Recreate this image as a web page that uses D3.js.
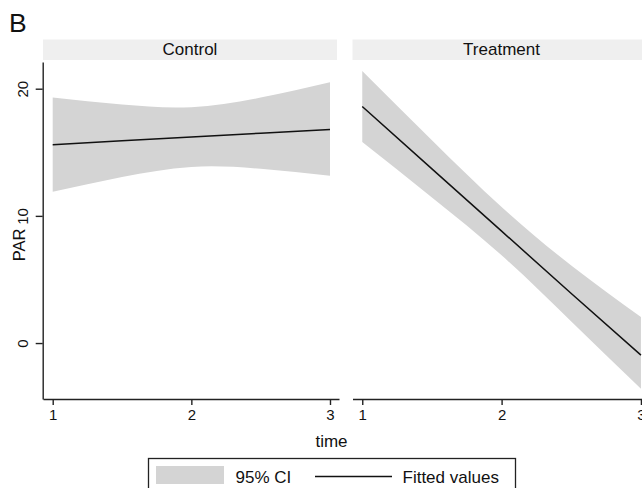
<!DOCTYPE html>
<html>
<head>
<meta charset="utf-8">
<script src="https://cdn.jsdelivr.net/npm/d3@7"></script>
<style>
  html, body { margin: 0; padding: 0; background: #fff; }
  svg { display: block; font-family: "Liberation Sans", Arial, sans-serif; }
</style>
</head>
<body>
<svg id="chart" width="642" height="488"></svg>
<script>
// ---- Data ----
const panels = ["Control", "Treatment"];
const timeValues = [1, 1.5, 2, 2.5, 3];
const controlFit   = [15.6, 15.9, 16.2, 16.5, 16.8];
const controlUpper = [19.3, 18.75, 18.55, 19.3, 20.5];
const controlLower = [11.9, 13.05, 13.85, 13.7, 13.15];
const treatFit   = [18.6, 13.7, 8.8, 3.9, -0.95];
const treatUpper = [21.4, 15.95, 10.7, 6.1, 2.05];
const treatLower = [15.8, 11.45, 6.9, 1.7, -3.6];
const xTicks = [1, 2, 3];
const yTicks = [0, 10, 20];
const legendLabels = ["95% CI", "Fitted values"];

const svg = d3.select("#chart");
const bandColor = "#d4d4d4";
const stripColor = "#efefef";

// Scales
const y = d3.scaleLinear().domain([-4.4, 22.1]).range([399, 62]);
const xRanges = [[43, 339], [352.5, 650]];
const xs = xRanges.map(r => d3.scaleLinear().domain([0.93, 3.065]).range(r));

const series = [
  { fit: controlFit, up: controlUpper, lo: controlLower },
  { fit: treatFit, up: treatUpper, lo: treatLower }
];

// "B" label
svg.append("text").attr("x", 9).attr("y", 31.5)
  .attr("font-size", 26.5).attr("fill", "#111").text("B");

panels.forEach((name, i) => {
  const x = xs[i];
  const [x0, x1] = x.range();
  const g = svg.append("g");

  // strip
  g.append("rect").attr("x", x0).attr("y", 39.5)
    .attr("width", (i === 0 ? 337 : x1) - x0).attr("height", 20.5)
    .attr("fill", stripColor);
  g.append("text").attr("x", i === 0 ? 190 : 501.5).attr("y", 55)
    .attr("text-anchor", "middle").attr("font-size", 17).attr("fill", "#111")
    .text(name);

  const d = timeValues.map((t, k) => ({ t, fit: series[i].fit[k], up: series[i].up[k], lo: series[i].lo[k] }));

  const area = d3.area().x(p => x(p.t)).y0(p => y(p.lo)).y1(p => y(p.up))
    .curve(d3.curveNatural);
  g.append("path").datum(d).attr("d", area).attr("fill", bandColor);

  const line = d3.line().x(p => x(p.t)).y(p => y(p.fit));
  g.append("path").datum(d).attr("d", line).attr("fill", "none")
    .attr("stroke", "#111").attr("stroke-width", 1.5);

  // x axis
  const xa = g.append("g").attr("transform", "translate(0,399)")
    .call(d3.axisBottom(x).tickValues(xTicks).tickSize(6).tickSizeOuter(0).tickPadding(4)
      .tickFormat(d3.format("d")));
  xa.select(".domain").attr("stroke", "#222").attr("stroke-width", 1.4);
  xa.selectAll(".tick line").attr("stroke", "#222").attr("stroke-width", 1.4);
  xa.selectAll(".tick text").attr("font-size", 15).attr("fill", "#111")
    .attr("font-family", "Liberation Sans, Arial, sans-serif");
});

// y axis (Control panel only)
const ya = svg.append("g").attr("transform", "translate(42.7,0)")
  .call(d3.axisLeft(y).tickValues(yTicks).tickSize(7).tickSizeOuter(0));
ya.select(".domain").attr("stroke", "#222").attr("stroke-width", 1.4);
ya.selectAll(".tick line").attr("stroke", "#222").attr("stroke-width", 1.4);
ya.selectAll(".tick text")
  .attr("transform", "rotate(-90)")
  .attr("x", 0).attr("y", -15).attr("dy", 0)
  .attr("text-anchor", "middle")
  .attr("font-size", 15).attr("fill", "#111")
  .attr("font-family", "Liberation Sans, Arial, sans-serif");

// y title
svg.append("text").attr("transform", "translate(25,245) rotate(-90)")
  .attr("text-anchor", "middle").attr("font-size", 16.5).attr("fill", "#111")
  .text("PAR");

// x title
svg.append("text").attr("x", 331.5).attr("y", 447)
  .attr("text-anchor", "middle").attr("font-size", 17).attr("fill", "#111")
  .text("time");

// legend
const lg = svg.append("g");
lg.append("rect").attr("x", 148.5).attr("y", 458.5).attr("width", 367).attr("height", 40)
  .attr("fill", "#fff").attr("stroke", "#222").attr("stroke-width", 1.3);
lg.append("rect").attr("x", 156).attr("y", 466).attr("width", 68).attr("height", 18)
  .attr("fill", bandColor);
lg.append("text").attr("x", 235.5).attr("y", 483).attr("font-size", 17).attr("fill", "#111")
  .text(legendLabels[0]);
lg.append("line").attr("x1", 315).attr("x2", 392).attr("y1", 476.5).attr("y2", 476.5)
  .attr("stroke", "#111").attr("stroke-width", 1.5);
lg.append("text").attr("x", 402.5).attr("y", 483).attr("font-size", 17).attr("fill", "#111")
  .text(legendLabels[1]);
</script>
</body>
</html>
